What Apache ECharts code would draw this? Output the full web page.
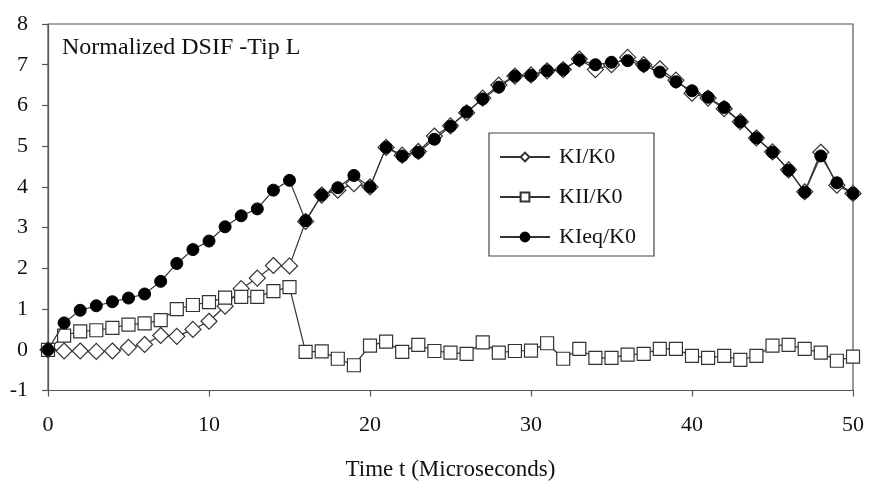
<!DOCTYPE html>
<html>
<head>
<meta charset="utf-8">
<script src="https://cdn.jsdelivr.net/npm/echarts@6/dist/echarts.min.js"></script>
<style>
html,body{margin:0;padding:0;background:#fff;}
#chart{width:869px;height:488px;}
</style>
</head>
<body>
<div id="chart"></div>
<script>
var times = [0,1,2,3,4,5,6,7,8,9,10,11,12,13,14,15,16,17,18,19,20,21,22,23,24,25,26,27,28,29,30,31,32,33,34,35,36,37,38,39,40,41,42,43,44,45,46,47,48,49,50];
var kI = [0,-0.03,-0.03,-0.04,-0.03,0.06,0.13,0.35,0.33,0.5,0.7,1.07,1.5,1.76,2.07,2.06,3.15,3.8,3.92,4.08,4.0,4.97,4.78,4.87,5.25,5.5,5.82,6.18,6.5,6.72,6.75,6.85,6.88,7.14,6.88,7.0,7.18,7.0,6.9,6.62,6.3,6.18,5.92,5.6,5.2,4.86,4.42,3.88,4.85,4.04,3.84];
var kII = [0,0.35,0.45,0.48,0.54,0.62,0.65,0.73,1.0,1.1,1.17,1.28,1.3,1.3,1.44,1.54,-0.05,-0.04,-0.22,-0.38,0.1,0.2,-0.05,0.12,-0.03,-0.07,-0.1,0.18,-0.07,-0.03,-0.02,0.16,-0.22,0.02,-0.2,-0.2,-0.12,-0.1,0.02,0.02,-0.15,-0.2,-0.15,-0.25,-0.15,0.1,0.12,0.02,-0.07,-0.27,-0.17];
var kIeq = [0,0.66,0.97,1.08,1.18,1.27,1.37,1.68,2.12,2.46,2.67,3.02,3.29,3.46,3.92,4.16,3.17,3.8,3.98,4.28,4.0,4.97,4.76,4.85,5.17,5.49,5.84,6.16,6.45,6.72,6.74,6.85,6.88,7.12,7.0,7.06,7.1,6.98,6.82,6.58,6.36,6.2,5.95,5.6,5.2,4.85,4.41,3.87,4.76,4.1,3.84];
var seriesNames = ['KI/K0','KII/K0','KIeq/K0'];
var chartTitle = 'Normalized DSIF -Tip L';
var xTitle = 'Time t (Microseconds)';

function pairs(vals){ return times.map(function(t,i){ return [t, vals[i]]; }); }

var font = 'Liberation Serif, Times New Roman, serif';
var ink = '#333';
var chart = echarts.init(document.getElementById('chart'), null, {renderer:'canvas'});
chart.setOption({
  animation:false,
  backgroundColor:'#fff',
  grid:{left:48,right:16,top:24,bottom:97.5,show:true,borderColor:'#555',borderWidth:1.2,backgroundColor:'transparent'},
  xAxis:{type:'value',min:0,max:50,interval:10,
    name:xTitle,nameLocation:'middle',nameGap:68,
    nameTextStyle:{fontFamily:font,fontSize:23,color:'#111'},
    axisLine:{show:true,onZero:false,lineStyle:{color:'#555',width:1.2}},
    axisTick:{show:true,inside:false,length:6,lineStyle:{color:'#555',width:1.2}},
    axisLabel:{fontFamily:font,fontSize:22,color:'#111',margin:24},
    splitLine:{show:false}},
  yAxis:{type:'value',min:-1,max:8,interval:1,
    axisLine:{show:true,onZero:false,lineStyle:{color:'#555',width:1.2}},
    axisTick:{show:true,inside:false,length:6,lineStyle:{color:'#555',width:1.2}},
    axisLabel:{fontFamily:font,fontSize:22,color:'#111',margin:20},
    splitLine:{show:false}},
  legend:{orient:'vertical',left:489,top:133,
    padding:[13,18,8,10],itemGap:18,itemWidth:50,itemHeight:11,
    borderColor:'#444',borderWidth:1.2,backgroundColor:'#fff',
    textStyle:{fontFamily:font,fontSize:22,color:'#111',padding:[0,0,0,4]},
    data:seriesNames},
  graphic:[{type:'text',left:62,top:36,style:{text:chartTitle,font:'24px '+font,fill:'#111'}}],
  series:[
    {name:seriesNames[0],type:'line',data:pairs(kI),symbol:'diamond',symbolSize:[16,16],
      lineStyle:{color:ink,width:1.2},itemStyle:{color:'#fff',borderColor:ink,borderWidth:1.2},z:2},
    {name:seriesNames[1],type:'line',data:pairs(kII),symbol:'rect',symbolSize:[13,13],
      lineStyle:{color:ink,width:1.2},itemStyle:{color:'#fff',borderColor:ink,borderWidth:1.2},z:3},
    {name:seriesNames[2],type:'line',data:pairs(kIeq),symbol:'circle',symbolSize:12,
      lineStyle:{color:ink,width:1.2},itemStyle:{color:'#000',borderColor:'#000',borderWidth:1},z:4}
  ]
});
</script>
</body>
</html>
